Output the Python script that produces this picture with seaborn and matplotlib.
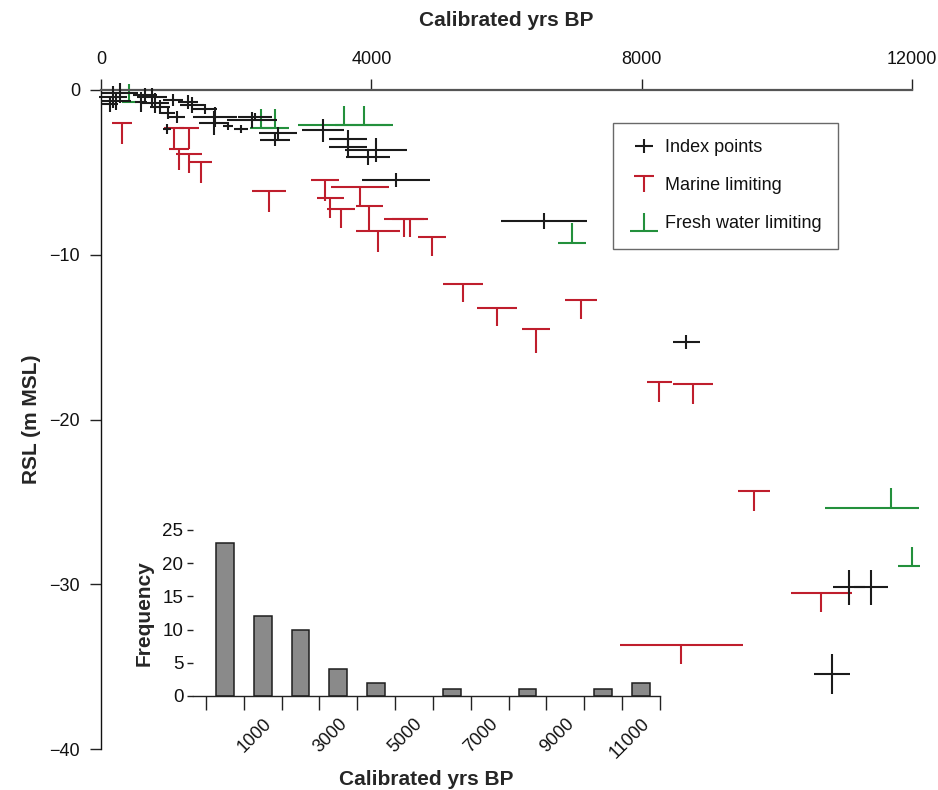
import numpy as np
import matplotlib
matplotlib.use("Agg")
import matplotlib.pyplot as plt
from matplotlib.path import Path
from matplotlib.lines import Line2D
import seaborn as sns

# ---------------- data ----------------
# Index points: age (cal yrs BP), age half-range, RSL (m MSL), RSL half-range
idx_age = [178, 222, 281, 133, 592, 651, 755, 799, 873, 1066, 992, 1125, 1288, 1347,
           1539, 1687, 1672, 977, 1880, 2072, 2235, 2280, 2620, 2575, 3285, 3655,
           3655, 4070, 3950, 4365, 6556, 8658, 11070, 11396, 10820]
idx_age_err = [207, 222, 266, 118, 90, 178, 222, 207, 148, 148, 104, 118, 148, 178,
               178, 326, 222, 59, 74, 104, 370, 250, 281, 222, 311, 281,
               281, 460, 325, 510, 630, 200, 240, 250, 270]
idx_rsl = [-0.42, -0.67, -0.18, -0.85, -0.73, -0.30, -0.42, -0.79, -1.03, -0.60, -1.40,
           -1.64, -0.73, -0.91, -1.15, -1.64, -2.00, -2.37, -2.18, -2.37, -1.82, -1.64,
           -2.61, -3.03, -2.43, -2.97, -3.46, -3.64, -4.07, -5.46, -7.95, -15.30,
           -30.17, -30.17, -35.45]
idx_rsl_err = [0.67, 0.55, 0.60, 0.50, 0.60, 0.42, 0.55, 0.60, 0.42, 0.36, 0.36, 0.36,
               0.42, 0.50, 0.30, 0.60, 0.73, 0.30, 0.25, 0.25, 0.50, 0.25, 0.36, 0.36,
               0.70, 0.55, 0.55, 0.70, 0.50, 0.45, 0.50, 0.45, 1.06, 1.06, 1.20]

# Marine limiting: age, age half-range, RSL (upper limit), downward extent
mar_age = [311, 1080, 1302, 1154, 1302, 1480, 2486, 3315, 3833, 3390, 3552, 3967,
           4100, 4484, 4573, 4900, 5358, 5860, 6438, 7104, 8258, 8762, 9665, 10656, 8584]
mar_age_err = [155, 150, 150, 155, 190, 163, 245, 207, 430, 200, 207, 200,
               325, 300, 260, 207, 300, 296, 207, 240, 185, 300, 240, 450, 910]
mar_rsl = [-2.00, -2.31, -2.31, -3.58, -3.88, -4.37, -6.13, -5.46, -5.89, -6.56, -7.22,
           -7.04, -8.56, -7.83, -7.83, -8.92, -11.78, -13.23, -14.50, -12.75, -17.72,
           -17.85, -24.34, -30.53, -33.70]
mar_len = [1.28, 1.27, 1.27, 1.27, 1.15, 1.27, 1.25, 1.30, 1.15, 1.20, 1.15, 1.50,
           1.30, 1.10, 1.10, 1.15, 1.10, 1.10, 1.45, 1.15, 1.20, 1.20, 1.20, 1.15, 1.15]

# Fresh water limiting: age, age range below / above, RSL (lower limit), upward extent
fw_age = [414, 2370, 2575, 3600, 3890, 6970, 11692, 12000]
fw_age_lo = [100, 170, 200, 680, 430, 207, 977, 207]
fw_age_hi = [100, 170, 200, 680, 430, 207, 414, 118]
fw_rsl = [-0.73, -2.31, -2.31, -2.12, -2.12, -9.29, -25.37, -28.90]
fw_len = [1.10, 1.15, 1.15, 1.15, 1.15, 1.20, 1.20, 1.15]

# Histogram of ages (1000-yr bins centred on 0, 1000, ... 11000)
hist_centers = [0, 1000, 2000, 3000, 4000, 5000, 6000, 7000, 8000, 9000, 10000, 11000]
hist_counts = [23, 12, 10, 4, 2, 0, 1, 0, 1, 0, 1, 2]
hist_edges = [-500, 500, 1500, 2500, 3500, 4500, 5500, 6500, 7500, 8500, 9500, 10500, 11500]
hist_labels = ["1000", "3000", "5000", "7000", "9000", "11000"]
hist_label_pos = [1000, 3000, 5000, 7000, 9000, 11000]

legend_labels = ["Index points", "Marine limiting", "Fresh water limiting"]

# ---------------- style ----------------
sns.set_theme(style="ticks")
plt.rcParams["font.family"] = ["Liberation Sans", "DejaVu Sans"]
plt.rcParams["axes.unicode_minus"] = True

BLACK = "#1b1b1b"
RED = "#bf1e2d"
GREEN = "#23903c"
LW = 1.5

W, H = 938, 790
fig = plt.figure(figsize=(W / 100, H / 100), dpi=100)
fig.patch.set_facecolor("white")
ax = fig.add_axes([101 / W, (H - 749) / H, 811 / W, 659 / H])
ax.set_facecolor("white")


def noclip(container):
    for coll in container.lines[2]:
        coll.set_clip_on(False)
        coll.set_capstyle("butt")


c1 = ax.errorbar(idx_age, idx_rsl, xerr=idx_age_err, yerr=idx_rsl_err, fmt="none",
                 ecolor=BLACK, elinewidth=LW, capsize=0, zorder=3)
noclip(c1)
mar_zero = np.zeros(len(mar_len))
c2 = ax.errorbar(mar_age, mar_rsl, xerr=mar_age_err, yerr=[mar_len, mar_zero],
                 fmt="none", ecolor=RED, elinewidth=LW, capsize=0, zorder=2)
noclip(c2)
fw_zero = np.zeros(len(fw_len))
c3 = ax.errorbar(fw_age, fw_rsl, xerr=[fw_age_lo, fw_age_hi], yerr=[fw_zero, fw_len],
                 fmt="none", ecolor=GREEN, elinewidth=LW, capsize=0, zorder=2)
noclip(c3)

ax.set_xlim(0, 12000)
ax.set_ylim(-40, 0)
ax.xaxis.tick_top()
ax.xaxis.set_label_position("top")
ax.set_xticks([0, 4000, 8000, 12000])
ax.set_yticks([0, -10, -20, -30, -40])
for s in ("bottom", "right"):
    ax.spines[s].set_visible(False)
ax.spines["top"].set_color("#555555")
ax.spines["top"].set_linewidth(1.6)
ax.spines["left"].set_color("#111111")
ax.spines["left"].set_linewidth(1.0)
ax.tick_params(axis="both", direction="out", length=8, width=1.0, labelsize=13,
               color="#222222", labelcolor="#111111")
ax.tick_params(axis="x", pad=8)
ax.tick_params(axis="y", pad=7)
ax.set_xlabel("Calibrated yrs BP", fontsize=15, fontweight="bold", labelpad=18)
ax.set_ylabel("RSL (m MSL)", fontsize=15, fontweight="bold", labelpad=6)

# custom legend glyphs
plus_path = Path([(-9, 0), (9, 0), (0, -7), (0, 7)],
                 [Path.MOVETO, Path.LINETO, Path.MOVETO, Path.LINETO])
tee_path = Path([(-9.5, 8), (9.5, 8), (0, 8), (0, -8)],
                [Path.MOVETO, Path.LINETO, Path.MOVETO, Path.LINETO])
fw_path = Path([(-14, -9.5), (14, -9.5), (0, -9.5), (0, 9.5)],
               [Path.MOVETO, Path.LINETO, Path.MOVETO, Path.LINETO])
handles = [
    Line2D([], [], linestyle="none", marker=plus_path, markersize=13, mfc="none",
           mec=BLACK, mew=LW),
    Line2D([], [], linestyle="none", marker=tee_path, markersize=13.7, mfc="none",
           mec=RED, mew=LW),
    Line2D([], [], linestyle="none", marker=fw_path, markersize=20, mfc="none",
           mec=GREEN, mew=LW),
]
leg = ax.legend(handles, legend_labels, loc="upper left",
                bbox_to_anchor=((613 - 101) / 811, 1 - (123 - 90) / 659),
                borderaxespad=0, fontsize=13, frameon=True, fancybox=False,
                borderpad=0.9, labelspacing=1.17, handlelength=1.6, handletextpad=0.4)
leg.get_frame().set_edgecolor("#444444")
leg.get_frame().set_linewidth(1.0)
for t in leg.get_texts():
    t.set_color("#111111")

# ---------------- inset histogram ----------------
axin = fig.add_axes([193 / W, (H - 696) / H, (660 - 193) / W, 166 / H])
axin.set_facecolor("none")
sns.histplot(x=hist_centers, weights=hist_counts, bins=hist_edges, shrink=0.47,
             color="#8a8a8a", edgecolor="#1e1e1e", linewidth=1.1, alpha=1, ax=axin)
for p in axin.patches:
    if p.get_height() == 0:
        p.set_visible(False)
axin.set_xlim(-840, 11500)
axin.set_ylim(0, 25)
axin.set_yticks([0, 5, 10, 15, 20, 25])
axin.set_xticks(hist_edges)
axin.set_xticklabels([])
axin.set_xticks(hist_label_pos, minor=True)
axin.set_xticklabels(hist_labels, minor=True, rotation=45, ha="right",
                     rotation_mode="anchor")
for s in ("top", "right", "left"):
    axin.spines[s].set_visible(False)
axin.spines["bottom"].set_color("#222222")
axin.spines["bottom"].set_linewidth(1.0)
axin.tick_params(axis="x", which="major", direction="out", length=10, width=1.0,
                 color="#222222")
axin.tick_params(axis="x", which="minor", length=0, pad=14, labelsize=13,
                 labelcolor="#111111")
axin.tick_params(axis="y", direction="out", length=4, width=1.0, labelsize=13.5,
                 color="#222222", labelcolor="#111111", pad=3)
axin.set_ylabel("Frequency", fontsize=15, fontweight="bold", labelpad=6)
axin.set_xlabel("Calibrated yrs BP", fontsize=15, fontweight="bold", labelpad=6)

fig.savefig("out.png", dpi=100, facecolor="white")
